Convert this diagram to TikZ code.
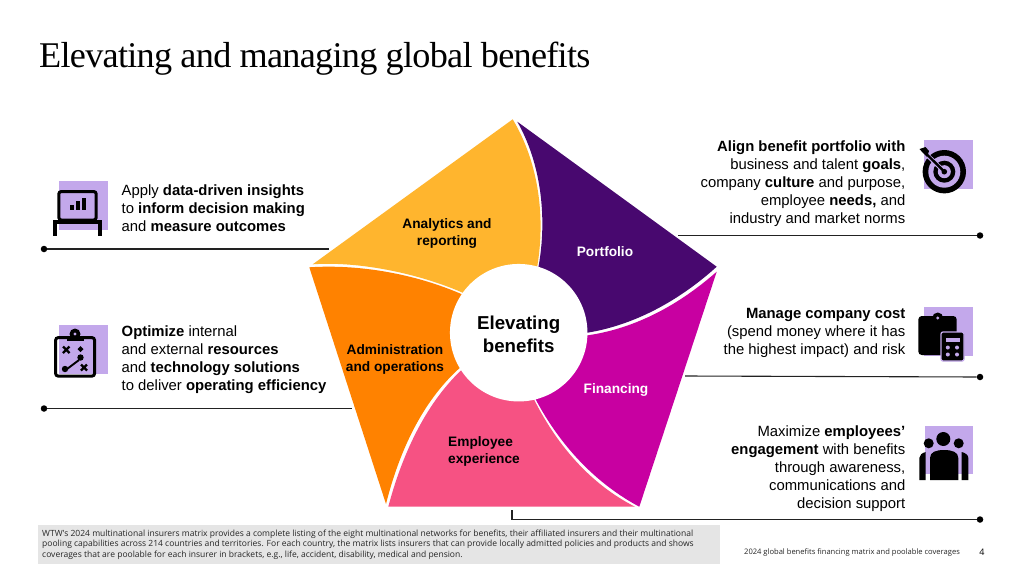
\documentclass[tikz,border=0pt]{standalone}
\usepackage{fontspec}
\setmainfont{Liberation Sans}
\newfontfamily\titlefont[LetterSpace=-2.0]{Liberation Serif}
\newfontfamily\notefont{Open Sans}
\definecolor{cyellow}{HTML}{FFB52E}
\definecolor{cpurple}{HTML}{48086F}
\definecolor{cmagenta}{HTML}{C800A1}
\definecolor{cpink}{HTML}{F65283}
\definecolor{corange}{HTML}{FF8200}
\definecolor{clav}{HTML}{C3A8EB}
\definecolor{cnote}{HTML}{E5E5E5}
\definecolor{cline}{HTML}{222222}
\tikzset{
  body/.style={inner sep=0pt,font=\fontsize{14.85}{18}\selectfont,text=black},
  bodyl/.style={body,anchor=west,align=left},
  bodyr/.style={body,anchor=east,align=right},
  seg/.style={inner sep=0pt,font=\fontsize{13.7}{17}\selectfont\bfseries,align=center},
  dot/.style={circle,fill=black,inner sep=0pt,minimum size=6.5pt},
  lead/.style={draw=cline,line width=1.1pt},
  lav/.style={fill=clav,draw=none},
  ink/.style={draw=black,line width=3pt},
  note/.style={inner sep=0pt,anchor=west,font=\notefont\fontsize{8.52}{10.5}\selectfont,text=black!85},
  foot/.style={inner sep=0pt,anchor=west,font=\notefont\fontsize{7.57}{10.5}\selectfont,text=black!85},
}
\begin{document}
\begin{tikzpicture}[x=1pt,y=-1pt]
\useasboundingbox (0,0) rectangle (1024,576);
\fill[white] (0,0) rectangle (1024,576);
\node[inner sep=0pt,anchor=base west,font=\titlefont\fontsize{36.2}{40}\selectfont] (title) at (39,67.5) {Elevating and managing global benefits};

% pentagon segments
\fill[cyellow] (512.7,119.3) -- (312.7,264.3) .. controls (360,261) and (420,274) .. (462.7,292.7) -- (518.7,332.7) -- (537.3,266) .. controls (545,220) and (540,165) .. (512.7,119.3) -- cycle;
\fill[cpurple] (517.3,121.7) -- (716.7,266.7) .. controls (680,300) and (635,325) .. (587.3,332.7) -- (518.7,332.7) -- (538.5,266.7) .. controls (547,220) and (542,165) .. (517.3,121.7) -- cycle;
\fill[cmagenta] (716.7,271.7) -- (639.3,506.7) .. controls (595,483) and (560,445) .. (536,400) -- (518.7,332.7) -- (588,335.3) .. controls (637,328) and (680,304) .. (716.7,271.7) -- cycle;
\fill[cpink] (635,506.7) -- (388.3,506.7) .. controls (402,455) and (425,405) .. (460.7,370.7) -- (518.7,332.7) -- (534.3,400) .. controls (558,447) and (592,485) .. (635,506.7) -- cycle;
\fill[corange] (309.3,267.3) -- (386,504) .. controls (399,452) and (422,402) .. (459.3,368.3) -- (518.7,332.7) -- (461.3,294) .. controls (415,274) and (360,264) .. (309.3,267.3) -- cycle;
\node[circle,fill=white,inner sep=0pt,minimum size=137.5pt] (hub) at (518.7,332.7) {};
\node[inner sep=0pt,font=\fontsize{18.7}{23}\selectfont\bfseries,align=center] (hublabel) at (518.7,334.5) {Elevating\\benefits};

\node[seg] (analytics) at (447,233) {Analytics and\\reporting};
\node[seg,text=white] (portfolio) at (605,251.5) {Portfolio};
\node[seg,text=white] (financing) at (616,389.5) {Financing};
\node[seg,align=left,anchor=west] (employee) at (448,451) {Employee\\experience};
\node[seg] (admin) at (395,359) {Administration\\and operations};

% left texts
\node[bodyl] (t1) at (121.5,207.7) {Apply \textbf{data-driven insights}\\to \textbf{inform decision making}\\and \textbf{measure outcomes}};
\node[bodyl] (t2) at (121.5,359.7) {\textbf{Optimize} internal\\and external \textbf{resources}\\and \textbf{technology solutions}\\to deliver \textbf{operating efficiency}};
% right texts
\node[bodyr] (t3) at (905.5,183.7) {\textbf{Align benefit portfolio with}\\business and talent \textbf{goals},\\company \textbf{culture} and purpose,\\employee \textbf{needs,} and\\industry and market norms};
\node[bodyr] (t4) at (905.5,332.7) {\textbf{Manage company cost}\\(spend money where it has\\the highest impact) and risk};
\node[bodyr] (t5) at (905.5,468.7) {Maximize \textbf{employees’}\\\textbf{engagement} with benefits\\through awareness,\\communications and\\decision support};

% leaders
\node[dot] (d1) at (44,249) {};
\coordinate (e1) at (329,249);
\node[dot] (d2) at (44,408.5) {};
\coordinate (e2) at (352,408.5);
\node[dot] (d3) at (980,235.5) {};
\coordinate (e3) at (678,235.5);
\node[dot] (d4) at (980,377) {};
\coordinate (e4) at (685,376);
\node[dot] (d5) at (980,519.5) {};
\coordinate (e5) at (512,510);
\draw[lead] (d1) -- (e1);
\draw[lead] (d2) -- (e2);
\draw[lead] (d3) -- (e3);
\draw[lead] (d4) -- (e4);
\draw[lead] (e5) |- (d5);

% icon: laptop
\fill[lav] (59,181) rectangle (108,230);
\draw[ink,rounded corners=2.5pt] (58.8,191.5) rectangle (96.2,220);
\fill[black] (53.3,219.5) rectangle (101.7,224);
\fill[black] (53.3,219.5) rectangle (57,235.7);
\fill[black] (98,219.5) rectangle (101.7,235.7);
\fill[black] (69.5,205) rectangle (73.5,209.5);
\fill[black] (75.5,201) rectangle (79.5,209.5);
\fill[black] (82,197.5) rectangle (86,209.5);

% icon: clipboard
\fill[lav] (59,325) rectangle (108,373.5);
\draw[ink,rounded corners=3pt] (55.5,337.5) rectangle (94.7,376.2);
\fill[black] (75,334) circle (5.5pt);
\fill[clav] (75,334) circle (1.6pt);
\fill[black] (66.5,335.5) rectangle (83.5,341);
\draw[black,line width=2.3pt] (63,346.5) -- (69.5,353) (69.5,346.5) -- (63,353);
\draw[black,line width=2.3pt] (81,364.5) -- (87,370.5) (87,364.5) -- (81,370.5);
\draw[black,line width=1.9pt] (79,360) -- (67,369);
\fill[black] (65,369) circle (3.2pt);
\fill[black] (80.5,357.5) circle (3.2pt);
\fill[black] (80.5,346) -- (83.5,349) -- (80.5,352) -- (77.5,349) -- cycle;

% icon: target
\fill[lav] (924,140) rectangle (972.7,189);
\fill[black] (944.3,171.7) circle (21.7pt);
\fill[clav] (944.3,171.7) circle (16pt);
\fill[black] (944.3,171.7) circle (11pt);
\fill[clav] (944.3,171.7) circle (6.5pt);
\fill[black] (944.3,171.7) circle (2.8pt);
\draw[clav,line width=4.4pt] (927,155) -- (942,169.5);
\draw[black,line width=2.4pt] (926,153.5) -- (944.3,171.7);
\fill[black] (919.5,149) -- (925.5,147) -- (929,151) -- (927,157) -- (923,153) -- cycle;

% icon: calculator
\fill[lav] (924,307) rectangle (972.7,355.7);
\fill[black,rounded corners=3.5pt] (918.3,316) rectangle (956.7,355);
\fill[black] (937.7,318) circle (5.5pt);
\fill[clav] (937.7,318) circle (1.7pt);
\fill[black,rounded corners=2pt,draw=clav,line width=1.3pt] (941,332) rectangle (964,361);
\fill[clav] (946,337.5) rectangle (959.5,341.5);
\foreach \px in {947.8,957} \foreach \py in {347.5,354.5} {\fill[clav] (\px,\py) circle (2pt);}

% icon: people
\fill[lav] (925,425.7) rectangle (973,474.3);
\fill[black] (943.3,439) circle (7pt);
\fill[black] (928.7,443.3) circle (5pt);
\fill[black] (958.7,443.3) circle (5pt);
\fill[black] (930,480) -- (930,458) .. controls (930,452) and (936,450) .. (944,450) .. controls (952,450) and (958.3,452) .. (958.3,458) -- (958.3,480) -- cycle;
\fill[black] (919.3,480) -- (919.3,458) .. controls (919.3,455) and (922,453) .. (925.7,452) -- (925.7,480) -- cycle;
\fill[black] (968.3,480) -- (968.3,458) .. controls (968.3,455) and (965.5,453) .. (961.7,452) -- (961.7,480) -- cycle;

% footnote
\fill[cnote] (38,525) rectangle (720,564) ;
\node[note] (n1) at (42,534) {WTW's 2024 multinational insurers matrix provides a complete listing of the eight multinational networks for benefits, their affiliated insurers and their multinational};
\node[note] (n2) at (42,544.5) {pooling capabilities across 214 countries and territories. For each country, the matrix lists insurers that can provide locally admitted policies and products and shows};
\node[note] (n3) at (42,555) {coverages that are poolable for each insurer in brackets, e.g., life, accident, disability, medical and pension.};
\node[foot] (footer) at (744,552.5) {2024 global benefits financing matrix and poolable coverages};
\node[inner sep=0pt,font=\notefont\fontsize{9}{10}\selectfont] (page) at (982,552.5) {4};
\end{tikzpicture}
\end{document}
